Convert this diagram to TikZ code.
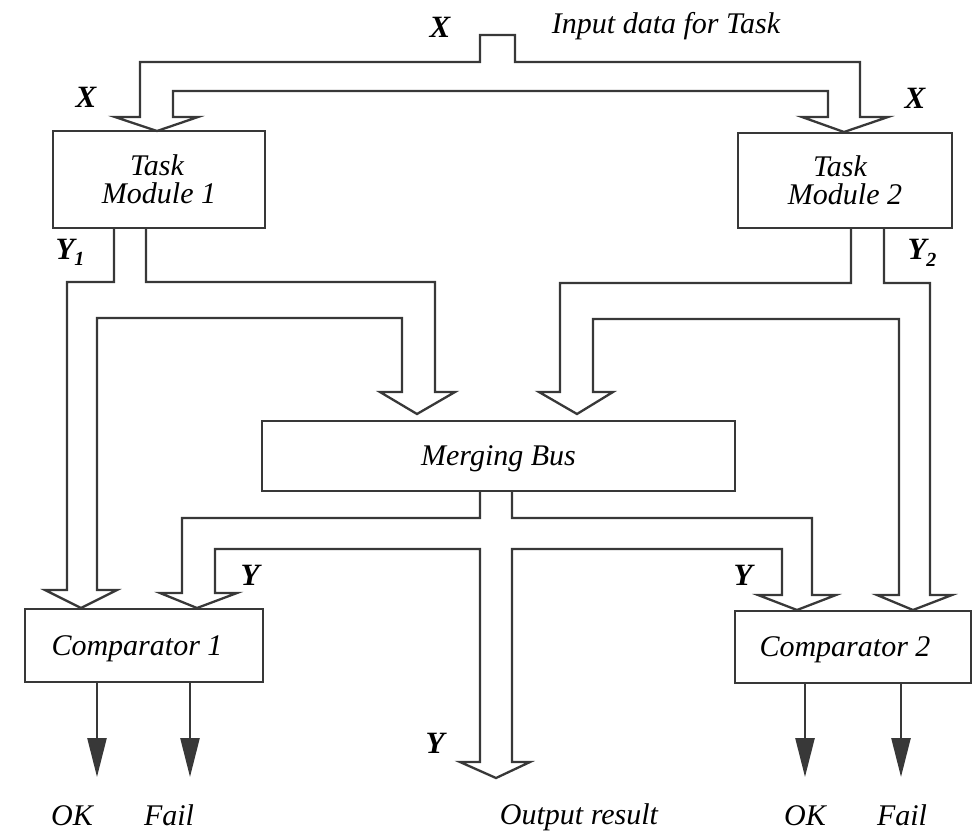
\documentclass[tikz,border=0pt]{standalone}
\usepackage{fontspec}
\setmainfont{Liberation Serif}
\usetikzlibrary{arrows.meta}
\begin{document}
\begin{tikzpicture}[x=1pt,y=-1pt,
  ink/.style={draw=black!78},
  pipe/.style={ink, line width=2.3pt, line join=miter, miter limit=10},
  block/.style={ink, line width=2.6pt, fill=white, inner sep=0pt, align=center,
    font=\fontsize{30}{27}\selectfont\itshape},
  txt/.style={font=\fontsize{30}{25}\selectfont\itshape, anchor=base, inner sep=0pt},
  sig/.style={font=\fontsize{31}{31}\selectfont\bfseries\itshape, anchor=base, inner sep=0pt},
  flow/.style={ink, line width=2.6pt, -{Triangle[length=39pt,width=19pt]}},
]
\useasboundingbox (0,0) rectangle (972,833);

% ---- blocks ----
\node[block, minimum width=212pt, minimum height=97pt] (tm1) at (159,179.5) {};
\node[block, minimum width=214pt, minimum height=95pt] (tm2) at (845,180.5) {};
\node[block, minimum width=473pt, minimum height=70pt, text depth=0pt] (bus) at (498.5,456) {Merging Bus};
\node[block, minimum width=238pt, minimum height=73pt, text depth=0pt] (cmp1) at (144,645.5) {Comparator 1\hspace*{14pt}};
\node[block, minimum width=236pt, minimum height=72pt, text depth=0pt] (cmp2) at (853,647) {Comparator 2\hspace*{16pt}};

% two-line captions of the task modules
\node[txt] (tm1a) at (157,175) {Task};
\node[txt] (tm1b) at (159,203) {Module 1};
\node[txt] (tm2a) at (840,176) {Task};
\node[txt] (tm2b) at (845,204) {Module 2};

% ---- input bus: one closed double-walled pipe feeding both modules ----
\draw[pipe] (480,62) -- (480,35) -- (515,35) -- (515,62) -- (860,62) -- (860,117)
  -- (888,117) -- (844,132) -- (802,117) -- (828,117) -- (828,91) -- (173,91)
  -- (173,117) -- (198,117) -- (157,131) -- (115,117) -- (140,117) -- (140,62) -- cycle;

% ---- outputs of module 1 ----
\draw[pipe] (114,228) -- (114,282) -- (67,282) -- (67,590) -- (45,590) -- (81,608)
  -- (117,590) -- (97,590) -- (97,318) -- (402,318) -- (402,392) -- (380,392)
  -- (417,414) -- (455,392) -- (435,392) -- (435,282) -- (146,282) -- (146,228);

% ---- outputs of module 2 ----
\draw[pipe] (851,228) -- (851,283) -- (560,283) -- (560,392) -- (539,392) -- (577,414)
  -- (613,392) -- (593,392) -- (593,319) -- (899,319) -- (899,595) -- (877,595)
  -- (913,610) -- (952,595) -- (930,595) -- (930,283) -- (884,283) -- (884,228);

% ---- merged result to comparators and output ----
\draw[pipe] (480,491) -- (480,518) -- (182,518) -- (182,593) -- (160,593) -- (197,608)
  -- (237,593) -- (215,593) -- (215,549) -- (480,549) -- (480,762) -- (460,762)
  -- (496,778) -- (530,762) -- (512,762) -- (512,549) -- (782,549) -- (782,595)
  -- (758,595) -- (797,610) -- (836,595) -- (812,595) -- (812,518) -- (512,518)
  -- (512,491);

% ---- comparator verdicts ----
\coordinate (ok1) at (97,777);
\coordinate (fail1) at (190,777);
\coordinate (ok2) at (805,777);
\coordinate (fail2) at (901,777);
\draw[flow] (cmp1.south -| ok1) -- (ok1);
\draw[flow] (cmp1.south -| fail1) -- (fail1);
\draw[flow] (cmp2.south -| ok2) -- (ok2);
\draw[flow] (cmp2.south -| fail2) -- (fail2);

% ---- labels ----
\node[txt] (inlbl) at (666,33) {Input data for Task};
\node[sig] (xtop) at (440,37) {X};
\node[sig] (xl) at (86,107) {X};
\node[sig] (xr) at (915,108) {X};
\node[sig] (y1) at (70,259) {Y\raisebox{-6pt}{\fontsize{20}{20}\selectfont 1}};
\node[sig] (y2) at (922,259) {Y\raisebox{-7pt}{\fontsize{20}{20}\selectfont 2}};
\node[sig] (yc1) at (250,585) {Y};
\node[sig] (yc2) at (743,585) {Y};
\node[sig] (yout) at (435,753) {Y};
\node[txt] (okl1) at (72,825) {OK};
\node[txt] (faill1) at (169,825) {Fail};
\node[txt] (outl) at (579,824) {Output result};
\node[txt] (okl2) at (805,825) {OK};
\node[txt] (faill2) at (902,825) {Fail};
\end{tikzpicture}
\end{document}
